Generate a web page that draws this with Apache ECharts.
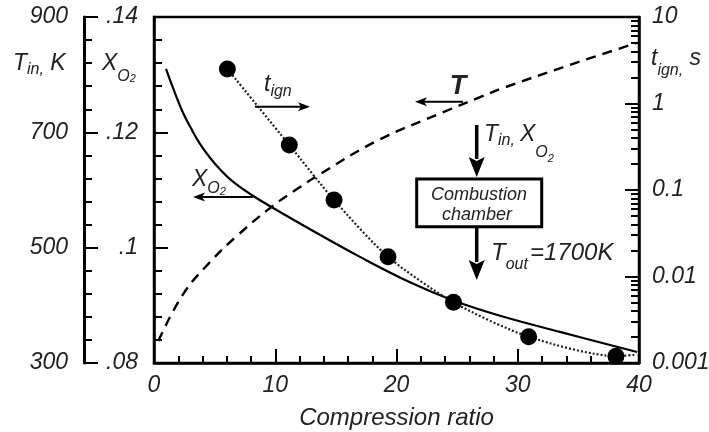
<!DOCTYPE html>
<html>
<head>
<meta charset="utf-8">
<script src="https://cdn.jsdelivr.net/npm/echarts@6/dist/echarts.min.js"></script>
<style>
html,body{margin:0;padding:0;background:#fff;}
#chart{width:709px;height:432px;}
</style>
</head>
<body>
<div id="chart"></div>
<script>
// ---- data ----
const xTicks = [0, 10, 20, 30, 40];
const tinTicks = [300, 500, 700, 900];
const xo2Ticks = [0.08, 0.10, 0.12, 0.14];
const tignTicks = [0.001, 0.01, 0.1, 1, 10];
const logMinorTicks = [
  0.002,0.003,0.004,0.005,0.006,0.007,0.008,0.009,
  0.02,0.03,0.04,0.05,0.06,0.07,0.08,0.09,
  0.2,0.3,0.4,0.5,0.6,0.7,0.8,0.9,
  2,3,4,5,6,7,8,9
];
// ignition time dots (compression ratio, seconds)
const dotX = [6.05, 11.16, 14.85, 19.3, 24.7, 30.9, 38.1];
const dotT = [2.51, 0.331, 0.0766, 0.0169, 0.00503, 0.00201, 0.00120];
// dotted fit through the dots
const fitX = [6.05, 11.16, 14.85, 19.3, 24.7, 30.9, 38.1, 39.8];
const fitT = [2.51, 0.331, 0.0766, 0.0169, 0.00503, 0.00201, 0.00120, 0.00125];
// oxygen mole fraction (solid)
const xo2X = [0.99, 1.73, 2.39, 3.13, 3.79, 4.62, 5.44, 6.43, 8.16, 9.65, 12.87, 16.99, 21.11, 24.74, 28.54, 33.48, 39.84];
const xo2Y = [0.1310, 0.1268, 0.1234, 0.1204, 0.1180, 0.1156, 0.1136, 0.1116, 0.1090, 0.1071, 0.1032, 0.0984, 0.0940, 0.0908, 0.0882, 0.0854, 0.0819];
// inlet temperature (dashed)
const tinX = [0.35, 2.42, 4.62, 6.82, 9.71, 12.04, 13.42, 18.37, 23.86, 26.89, 28.81, 34.31, 39.81];
const tinY = [338, 420, 475, 520, 571, 605, 624, 685, 735, 761, 777, 817, 855];

const xMin = 0, xMax = 40;
const tMin = 0.001, tMax = 10;

// ---- helpers ----
const FONT = '"Liberation Sans", Arial, Helvetica, sans-serif';
const TXT = '#222';
const mctx = document.createElement('canvas').getContext('2d');
function fontStr(s, b) { return 'italic ' + (b ? 'bold ' : '') + s + 'px ' + FONT; }
function tw(t, s, b) { mctx.font = fontStr(s, b); return mctx.measureText(t).width; }
function seq(x, pieces) {
  const out = [];
  for (const p of pieces) {
    if (p.x != null) x = p.x;
    out.push({
      type: 'text', x: x, y: p.y, z: 100, silent: true,
      style: { text: p.t, font: fontStr(p.s, p.b), fill: TXT,
               align: 'left', verticalAlign: 'middle', textAlign: 'left', textVerticalAlign: 'middle' }
    });
    x += tw(p.t, p.s, p.b);
  }
  return out;
}
function ctext(t, x, y, s, b) {
  return { type: 'text', x: x, y: y, z: 100, silent: true,
    style: { text: t, font: fontStr(s, b), fill: TXT, align: 'center', verticalAlign: 'middle',
             textAlign: 'center', textVerticalAlign: 'middle' } };
}
function hArrow(xFrom, xTo, y) {
  const dir = xTo > xFrom ? 1 : -1;
  const hl = 12, hw = 4.5;
  return [
    { type: 'line', z: 100, silent: true, shape: { x1: xFrom, y1: y, x2: xTo - dir * 8, y2: y },
      style: { stroke: '#000', lineWidth: 2 } },
    { type: 'polygon', z: 100, silent: true,
      shape: { points: [[xTo, y], [xTo - dir * hl, y - hw], [xTo - dir * (hl - 3), y], [xTo - dir * hl, y + hw]] },
      style: { fill: '#000' } }
  ];
}
function vArrow(x, yFrom, yTo) {
  const hl = 20, hw = 8;
  return [
    { type: 'line', z: 100, silent: true, shape: { x1: x, y1: yFrom, x2: x, y2: yTo - hl + 2 },
      style: { stroke: '#000', lineWidth: 3.5 } },
    { type: 'polygon', z: 100, silent: true,
      shape: { points: [[x, yTo], [x - hw, yTo - hl], [x, yTo - hl + 4], [x + hw, yTo - hl]] },
      style: { fill: '#000' } }
  ];
}

const axisLabelStyle = { fontFamily: FONT, fontStyle: 'italic', fontSize: 23, color: TXT };

const graphics = [].concat(
  // axis titles
  seq(13, [{ t: 'T', y: 64, s: 23 }, { t: 'in,', y: 70, s: 16 }, { t: ' K', y: 64, s: 23 }]),
  seq(102, [{ t: 'X', y: 64, s: 23 }, { t: 'O', y: 76.5, s: 16 }, { t: '2', y: 79, s: 11 }]),
  seq(651, [{ t: 't', y: 58.5, s: 23 }, { t: 'ign,', y: 70.5, s: 16 }, { t: ' s', y: 58.5, s: 23 }]),
  // t_ign annotation
  seq(264, [{ t: 't', y: 85, s: 23 }, { t: 'ign', y: 91.5, s: 16 }]),
  hArrow(255, 310, 106.7),
  // X_O2 annotation
  seq(192, [{ t: 'X', y: 180, s: 23 }, { t: 'O', y: 189, s: 16 }, { t: '2', y: 192, s: 11 }]),
  hArrow(253, 193, 197),
  // T annotation
  [ctext('T', 458, 87, 27, true)],
  hArrow(463, 415, 101.7),
  // combustion chamber schematic
  vArrow(476.7, 125, 177),
  seq(484, [{ t: 'T', y: 135, s: 23 }, { t: 'in,', y: 140.5, s: 16 },
            { t: 'X', x: 520, y: 135, s: 23 }, { t: 'O', y: 152.5, s: 16 }, { t: '2', y: 159, s: 11 }]),
  [{ type: 'rect', z: 99, silent: true, shape: { x: 416.7, y: 179, width: 125, height: 47.7 },
     style: { fill: '#fff', stroke: '#000', lineWidth: 3 } }],
  [ctext('Combustion', 479, 195, 18), ctext('chamber', 477, 215, 18)],
  vArrow(476.7, 228, 280),
  seq(491, [{ t: 'T', y: 253.7, s: 24 }, { t: 'out', y: 264.5, s: 16 }, { t: '=1700K', x: 530, y: 253.7, s: 24 }])
);

const chart = echarts.init(document.getElementById('chart'), null, { renderer: 'canvas' });

const tickLine = { color: '#000', width: 2 };
const option = {
  animation: false,
  backgroundColor: '#fff',
  grid: { left: 154, right: 70, top: 17, bottom: 69, containLabel: false, outerBoundsMode: 'none',
          show: true, borderColor: '#000', borderWidth: 2.5, backgroundColor: 'transparent' },
  xAxis: {
    type: 'value', min: xMin, max: xMax, interval: 10,
    axisLine: { show: true, onZero: false, lineStyle: { color: '#000', width: 2.5 } },
    axisTick: { show: true, inside: true, length: 14, lineStyle: tickLine },
    minorTick: { show: true, splitNumber: 5, length: 7, lineStyle: tickLine },
    splitLine: { show: false },
    axisLabel: Object.assign({ margin: 11, formatter: v => xTicks.includes(v) ? String(v) : '' }, axisLabelStyle),
    name: 'Compression ratio', nameLocation: 'middle', nameGap: 43,
    nameTextStyle: { fontFamily: FONT, fontStyle: 'italic', fontSize: 24, color: TXT }
  },
  yAxis: [
    {
      type: 'value', position: 'left', offset: 0, min: 0.08, max: 0.14, interval: 0.02,
      axisLine: { show: true, onZero: false, lineStyle: { color: '#000', width: 2.5 } },
      axisTick: { show: true, inside: true, length: 14, lineStyle: tickLine },
      minorTick: { show: true, splitNumber: 5, length: 8, lineStyle: tickLine },
      splitLine: { show: false },
      axisLabel: Object.assign({ margin: 16, padding: [8, 0, 0, 0],
        formatter: v => { const m = xo2Ticks.find(t => Math.abs(t - v) < 1e-9); return m == null ? '' : m.toFixed(2).replace(/^0/, '').replace(/0$/, ''); } }, axisLabelStyle)
    },
    {
      type: 'value', position: 'left', offset: 70, min: 300, max: 900, interval: 200,
      axisLine: { show: true, onZero: false, lineStyle: { color: '#000', width: 3 } },
      axisTick: { show: true, inside: true, length: 14, lineStyle: tickLine },
      minorTick: { show: true, splitNumber: 5, length: 8, lineStyle: tickLine },
      splitLine: { show: false },
      axisLabel: Object.assign({ margin: 16, padding: [8, 0, 0, 0],
        formatter: v => tinTicks.includes(v) ? String(v) : '' }, axisLabelStyle)
    },
    {
      type: 'log', logBase: 10, position: 'right', min: tMin, max: tMax,
      axisLine: { show: true, onZero: false, lineStyle: { color: '#000', width: 2.5 } },
      axisTick: { show: true, inside: true, length: 14, lineStyle: tickLine },
      minorTick: { show: false },
      splitLine: { show: false },
      axisLabel: Object.assign({ margin: 13, padding: [8, 0, 0, 0],
        formatter: v => { const m = tignTicks.find(t => Math.abs(Math.log10(t) - Math.log10(v)) < 1e-6); return m == null ? '' : String(m); } }, axisLabelStyle)
    },
    {
      // overlay of the log axis expressed in decades, used only to draw its minor ticks
      type: 'value', position: 'right', offset: 0,
      min: Math.log10(tMin), max: Math.log10(tMax), interval: 1,
      axisLine: { show: false, onZero: false },
      axisTick: { show: true, inside: true, length: 8, lineStyle: tickLine,
                  customValues: logMinorTicks.map(v => Math.log10(v)) },
      axisLabel: { show: false },
      minorTick: { show: false },
      splitLine: { show: false }
    }
  ],
  series: [
    {
      name: 'XO2', type: 'line', xAxisIndex: 0, yAxisIndex: 0, smooth: 0.4, symbol: 'none',
      data: xo2X.map((x, i) => [x, xo2Y[i]]),
      lineStyle: { color: '#000', width: 2.2 }, z: 3
    },
    {
      name: 'T', type: 'line', xAxisIndex: 0, yAxisIndex: 1, smooth: 0.4, symbol: 'none',
      data: tinX.map((x, i) => [x, tinY[i]]),
      lineStyle: { color: '#000', width: 2.4, type: [10, 7] }, z: 3
    },
    {
      name: 'tign fit', type: 'line', xAxisIndex: 0, yAxisIndex: 2, smooth: 0.25, symbol: 'none',
      data: fitX.map((x, i) => [x, fitT[i]]),
      lineStyle: { color: '#222', width: 2.2, type: [2, 2] }, z: 4
    },
    {
      name: 'tign', type: 'scatter', xAxisIndex: 0, yAxisIndex: 2, symbol: 'circle', symbolSize: 17,
      data: dotX.map((x, i) => [x, dotT[i]]),
      itemStyle: { color: '#000', opacity: 1 }, z: 5
    }
  ],
  graphic: graphics
};
chart.setOption(option);
</script>
</body>
</html>
